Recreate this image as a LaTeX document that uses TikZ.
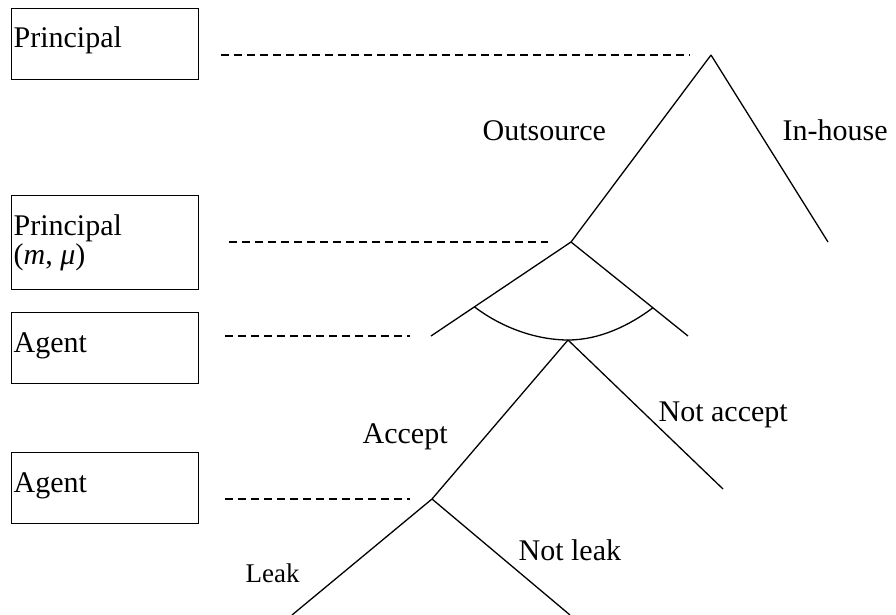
\documentclass[tikz,border=0pt]{standalone}
\usepackage{fontspec}
\setmainfont{Liberation Serif}
\usetikzlibrary{calc}
\begin{document}
\begin{tikzpicture}[x=1pt,y=-1pt,line width=1.3pt]

      \useasboundingbox (0,0) rectangle (896,615);

      \begin{scope}[every node/.style={draw,anchor=north west,minimum width=187pt,minimum height=71pt,inner sep=0pt}]
        \node (b1) at (11,8)   {};
        \node (b2) at (11,195) [minimum height=94pt] {};
        \node (b3) at (11,312) {};
        \node (b4) at (11,452) {};
      \end{scope}

      \begin{scope}[every node/.style={anchor=base west,inner sep=0pt,font=\fontsize{30}{36}\selectfont}]
        \node at ($(b1.north west)+(2,40)$) {Principal};
        \node at ($(b2.north west)+(2,40)$) {Principal};
        \node at ($(b2.north west)+(2,69)$) {(\textit{m}, \textit{μ})};
        \node at ($(b3.north west)+(2,40)$) {Agent};
        \node at ($(b4.north west)+(2,40)$) {Agent};
      \end{scope}

      \coordinate (1)  at (711,55);
      \coordinate (2)  at (571,242);
      \coordinate (3)  at (568,340);
      \coordinate (4)  at (432,499);
      \coordinate (5)  at (828,242);
      \coordinate (6)  at (431,336);
      \coordinate (7)  at (688,336);
      \coordinate (8)  at (723,489);
      \coordinate (9)  at (292,615);
      \coordinate (10) at (570,615);

      \begin{scope}[every edge/.style={draw}]
        \path (1) edge (2);
        \path (1) edge (5);
        \path (2) edge (6);
        \path (2) edge (7);
        \path (3) edge (4);
        \path (3) edge (8);
        \path (4) edge (9);
        \path (4) edge (10);
      \end{scope}

      % information set
      \coordinate (a) at ($(2)!0.69!(6)$);
      \coordinate (b) at ($(2)!0.70!(7)$);
      \draw (a) .. controls (505,330) and (540,340) .. (3)
                .. controls (600,340) and (630,325) .. (b);

      \begin{scope}[line width=1.2pt,dash pattern=on 8pt off 5pt]
        \draw ($(b1.east |- 1)+(22,0)$) -- ($(1)+(-21,0)$);
        \draw ($(b2.east |- 2)+(30,0)$) -- ($(2)+(-23,0)$);
        \draw ($(b3.east |- 6)+(26,0)$) -- ($(6)+(-21,0)$);
        \draw ($(b4.east |- 4)+(26,0)$) -- ($(4)+(-22,0)$);
      \end{scope}

      \begin{scope}[every node/.style={anchor=base west,inner sep=0pt,font=\fontsize{30}{36}\selectfont}]
        \node at (482,140) {Outsource};
        \node at (782,140) {In-house};
        \node at (362,443) {Accept};
        \node at (658,421) {Not accept};
        \node at (518,560) {Not leak};
        \node[font=\fontsize{27}{32}\selectfont] at (245,582) {Leak};
      \end{scope}

    \end{tikzpicture}
\end{document}
